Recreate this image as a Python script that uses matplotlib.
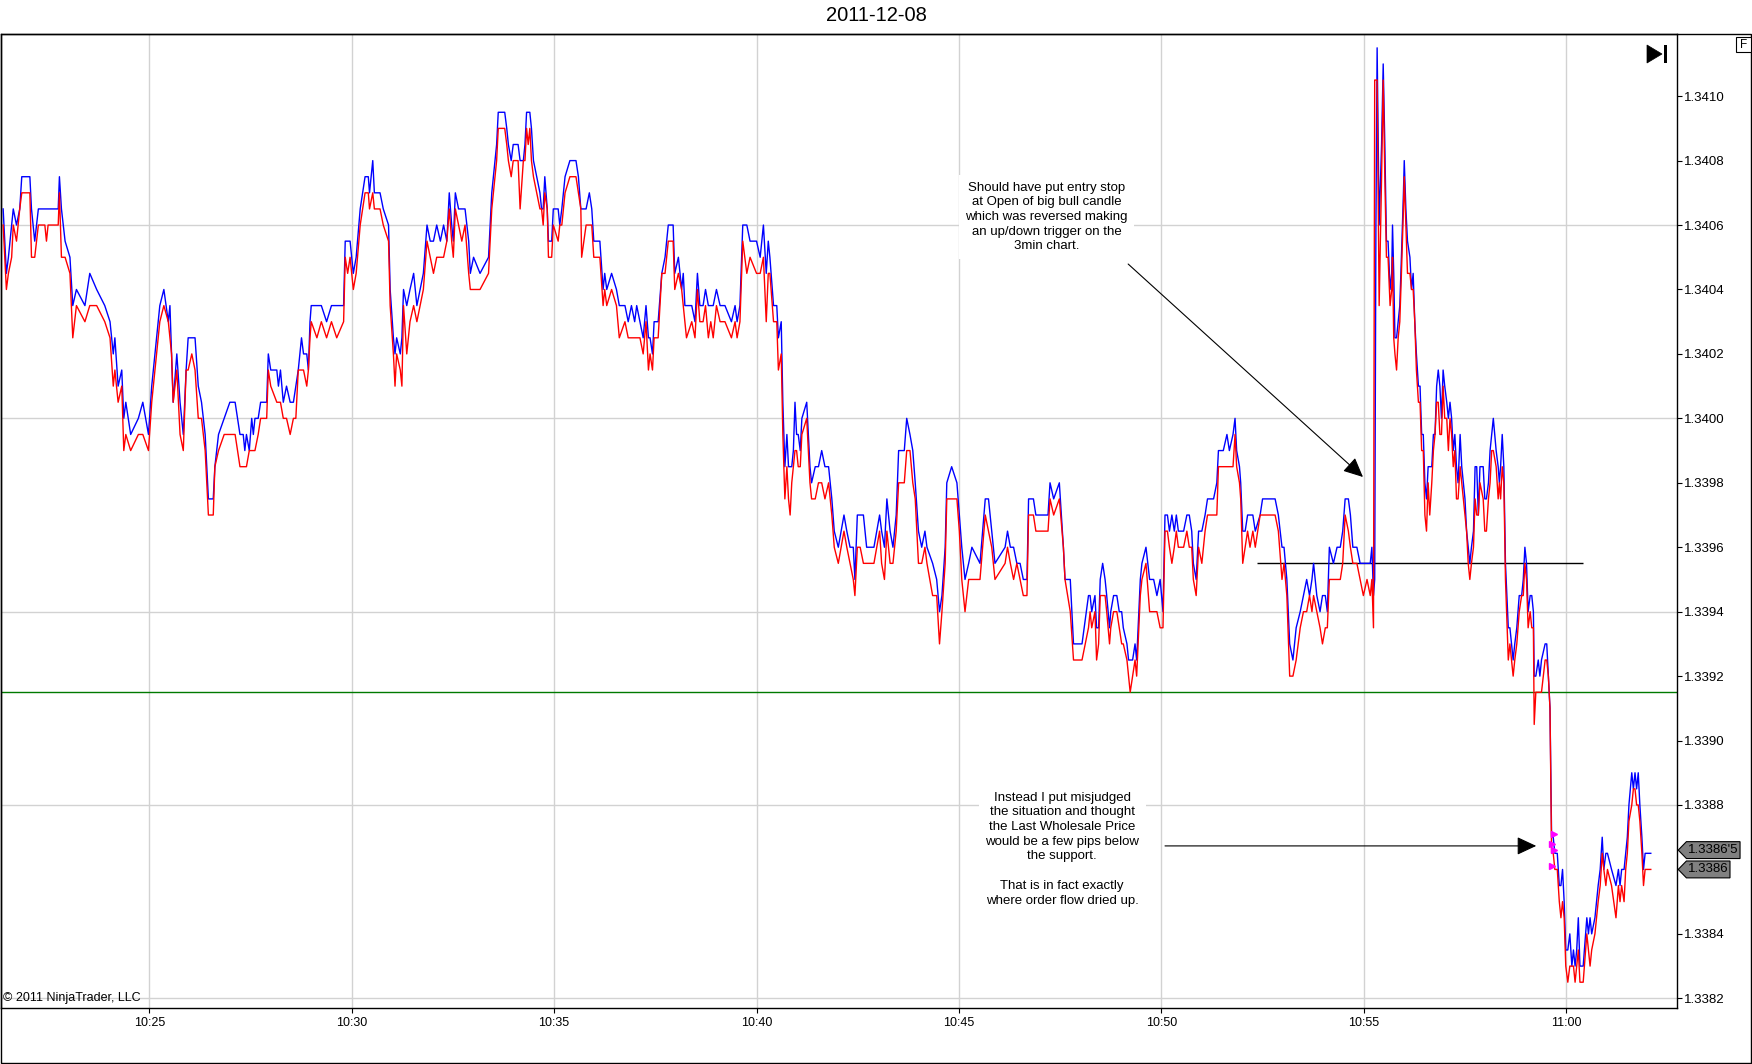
import matplotlib
matplotlib.use("Agg")
import matplotlib.pyplot as plt
from matplotlib.patches import Polygon, Rectangle
from matplotlib.transforms import blended_transform_factory

plt.rcParams['font.family'] = ['Liberation Sans', 'DejaVu Sans']

# ---------------- data (minutes after 10:00, ask, bid) ----------------
minutes = [
    21.39, 21.47, 21.52, 21.60, 21.64, 21.72, 21.80, 21.85,
    22.05, 22.09, 22.17, 22.26, 22.42, 22.46, 22.50, 22.75,
    22.78, 22.83, 22.92, 23.04, 23.11, 23.20, 23.41, 23.53,
    23.70, 23.90, 24.03, 24.11, 24.15, 24.23, 24.32, 24.37,
    24.42, 24.54, 24.73, 24.84, 24.98, 25.06, 25.14, 25.26,
    25.36, 25.47, 25.51, 25.55, 25.59, 25.68, 25.76, 25.84,
    25.91, 25.96, 26.05, 26.13, 26.21, 26.29, 26.38, 26.46,
    26.58, 26.62, 26.71, 26.85, 26.99, 27.12, 27.24, 27.32,
    27.36, 27.40, 27.47, 27.53, 27.57, 27.61, 27.69, 27.75,
    27.90, 27.94, 28.00, 28.15, 28.19, 28.24, 28.31, 28.39,
    28.48, 28.56, 28.62, 28.68, 28.76, 28.81, 28.89, 28.93,
    28.97, 29.00, 29.14, 29.25, 29.38, 29.50, 29.63, 29.80,
    29.84, 29.90, 29.96, 30.04, 30.11, 30.21, 30.33, 30.41,
    30.44, 30.52, 30.56, 30.70, 30.78, 30.91, 30.95, 31.03,
    31.07, 31.11, 31.20, 31.24, 31.28, 31.36, 31.44, 31.53,
    31.61, 31.69, 31.77, 31.86, 31.94, 32.02, 32.10, 32.19,
    32.27, 32.35, 32.41, 32.47, 32.51, 32.56, 32.64, 32.72,
    32.80, 32.89, 32.93, 33.01, 33.17, 33.38, 33.46, 33.54,
    33.58, 33.62, 33.78, 33.83, 33.87, 33.94, 33.99, 34.11,
    34.16, 34.24, 34.28, 34.32, 34.36, 34.40, 34.44, 34.49,
    34.57, 34.65, 34.69, 34.73, 34.77, 34.83, 34.86, 34.94,
    34.98, 35.10, 35.14, 35.19, 35.27, 35.39, 35.54, 35.60,
    35.66, 35.68, 35.79, 35.87, 35.93, 35.98, 36.13, 36.21,
    36.25, 36.30, 36.42, 36.54, 36.61, 36.75, 36.83, 36.91,
    36.99, 37.04, 37.12, 37.20, 37.27, 37.33, 37.37, 37.43,
    37.47, 37.57, 37.66, 37.74, 37.82, 37.94, 37.98, 38.07,
    38.15, 38.19, 38.23, 38.27, 38.40, 38.48, 38.54, 38.60,
    38.68, 38.74, 38.81, 38.87, 38.93, 39.01, 39.10, 39.22,
    39.38, 39.47, 39.52, 39.59, 39.66, 39.76, 39.84, 40.00,
    40.09, 40.17, 40.24, 40.29, 40.33, 40.42, 40.50, 40.54,
    40.61, 40.65, 40.70, 40.75, 40.79, 40.83, 40.87, 40.91,
    40.95, 40.99, 41.03, 41.08, 41.12, 41.24, 41.32, 41.36,
    41.45, 41.53, 41.61, 41.69, 41.78, 41.86, 41.92, 42.02,
    42.16, 42.23, 42.31, 42.39, 42.43, 42.49, 42.56, 42.64,
    42.72, 42.90, 43.04, 43.09, 43.16, 43.22, 43.30, 43.37,
    43.45, 43.51, 43.59, 43.65, 43.71, 43.79, 43.86, 43.92,
    44.00, 44.08, 44.16, 44.21, 44.35, 44.45, 44.52, 44.58,
    44.66, 44.70, 44.82, 44.95, 45.01, 45.07, 45.15, 45.24,
    45.32, 45.52, 45.65, 45.73, 45.81, 45.89, 46.14, 46.20,
    46.27, 46.35, 46.43, 46.51, 46.59, 46.68, 46.72, 46.84,
    46.90, 47.20, 47.25, 47.34, 47.48, 47.58, 47.62, 47.75,
    47.83, 48.04, 48.20, 48.24, 48.28, 48.36, 48.40, 48.45,
    48.49, 48.55, 48.61, 48.65, 48.72, 48.75, 48.82, 48.90,
    48.96, 49.02, 49.06, 49.15, 49.19, 49.23, 49.29, 49.35,
    49.39, 49.48, 49.52, 49.62, 49.71, 49.81, 49.89, 49.97,
    50.04, 50.09, 50.15, 50.20, 50.26, 50.32, 50.37, 50.42,
    50.55, 50.63, 50.69, 50.75, 50.79, 50.86, 50.92, 51.00,
    51.08, 51.14, 51.29, 51.37, 51.41, 51.53, 51.62, 51.68,
    51.77, 51.82, 51.86, 51.93, 51.96, 52.01, 52.07, 52.13,
    52.19, 52.26, 52.32, 52.44, 52.50, 52.81, 52.89, 52.98,
    53.03, 53.10, 53.17, 53.25, 53.33, 53.43, 53.51, 53.59,
    53.66, 53.72, 53.76, 53.84, 53.92, 53.98, 54.05, 54.10,
    54.15, 54.25, 54.34, 54.42, 54.48, 54.54, 54.62, 54.67,
    54.73, 54.83, 54.91, 54.99, 55.08, 55.16, 55.20, 55.24,
    55.27, 55.30, 55.33, 55.38, 55.44, 55.48, 55.52, 55.56,
    55.60, 55.65, 55.69, 55.71, 55.74, 55.77, 55.81, 55.85,
    55.89, 55.93, 55.98, 56.00, 56.04, 56.08, 56.14, 56.18,
    56.22, 56.26, 56.30, 56.35, 56.39, 56.43, 56.47, 56.51,
    56.55, 56.59, 56.63, 56.68, 56.72, 56.76, 56.80, 56.84,
    56.88, 56.92, 56.96, 57.00, 57.05, 57.09, 57.13, 57.17,
    57.21, 57.25, 57.29, 57.33, 57.38, 57.42, 57.50, 57.54,
    57.58, 57.62, 57.66, 57.71, 57.75, 57.79, 57.83, 57.87,
    57.95, 57.99, 58.03, 58.08, 58.12, 58.16, 58.20, 58.27,
    58.32, 58.35, 58.38, 58.42, 58.46, 58.50, 58.57, 58.61,
    58.65, 58.69, 58.73, 58.78, 58.84, 58.90, 58.94, 58.98,
    59.02, 59.06, 59.11, 59.15, 59.19, 59.21, 59.25, 59.31,
    59.35, 59.39, 59.48, 59.52, 59.56, 59.60, 59.64, 59.68,
    59.72, 59.78, 59.83, 59.87, 59.91, 59.95, 59.99, 60.04,
    60.09, 60.14, 60.18, 60.22, 60.26, 60.30, 60.34, 60.42,
    60.51, 60.55, 60.59, 60.63, 60.71, 60.79, 60.84, 60.89,
    60.93, 60.98, 61.02, 61.12, 61.23, 61.29, 61.33, 61.37,
    61.43, 61.47, 61.51, 61.55, 61.62, 61.66, 61.70, 61.74,
    61.78, 61.82, 61.87, 61.91, 61.95, 62.09,
]

ask = [
    1.34065, 1.34045, 1.34050, 1.34060, 1.34065, 1.34060, 1.34065, 1.34075,
    1.34075, 1.34065, 1.34055, 1.34065, 1.34065, 1.34065, 1.34065, 1.34065,
    1.34075, 1.34065, 1.34055, 1.34050, 1.34035, 1.34040, 1.34035, 1.34045,
    1.34040, 1.34035, 1.34030, 1.34020, 1.34025, 1.34010, 1.34015, 1.34000,
    1.34005, 1.33995, 1.34000, 1.34005, 1.33995, 1.34010, 1.34020, 1.34035,
    1.34040, 1.34030, 1.34035, 1.34020, 1.34005, 1.34020, 1.34005, 1.33995,
    1.34015, 1.34025, 1.34025, 1.34025, 1.34010, 1.34005, 1.33995, 1.33975,
    1.33975, 1.33985, 1.33995, 1.34000, 1.34005, 1.34005, 1.33995, 1.33995,
    1.33990, 1.33995, 1.33990, 1.34000, 1.33995, 1.34000, 1.34000, 1.34005,
    1.34005, 1.34020, 1.34015, 1.34015, 1.34010, 1.34015, 1.34005, 1.34010,
    1.34005, 1.34005, 1.34010, 1.34015, 1.34025, 1.34020, 1.34020, 1.34015,
    1.34030, 1.34035, 1.34035, 1.34035, 1.34030, 1.34035, 1.34035, 1.34035,
    1.34055, 1.34055, 1.34055, 1.34045, 1.34050, 1.34065, 1.34075, 1.34075,
    1.34070, 1.34080, 1.34070, 1.34070, 1.34065, 1.34060, 1.34040, 1.34025,
    1.34020, 1.34025, 1.34020, 1.34025, 1.34040, 1.34035, 1.34040, 1.34045,
    1.34035, 1.34040, 1.34045, 1.34060, 1.34055, 1.34055, 1.34060, 1.34055,
    1.34060, 1.34055, 1.34070, 1.34060, 1.34055, 1.34070, 1.34065, 1.34065,
    1.34065, 1.34055, 1.34045, 1.34050, 1.34045, 1.34050, 1.34070, 1.34080,
    1.34085, 1.34095, 1.34095, 1.34090, 1.34085, 1.34080, 1.34085, 1.34085,
    1.34080, 1.34080, 1.34085, 1.34095, 1.34095, 1.34095, 1.34090, 1.34080,
    1.34075, 1.34070, 1.34065, 1.34065, 1.34075, 1.34065, 1.34055, 1.34055,
    1.34065, 1.34065, 1.34060, 1.34065, 1.34075, 1.34080, 1.34080, 1.34075,
    1.34065, 1.34065, 1.34065, 1.34070, 1.34065, 1.34055, 1.34055, 1.34040,
    1.34045, 1.34040, 1.34045, 1.34040, 1.34035, 1.34035, 1.34030, 1.34035,
    1.34030, 1.34035, 1.34030, 1.34025, 1.34035, 1.34025, 1.34025, 1.34020,
    1.34030, 1.34030, 1.34045, 1.34050, 1.34060, 1.34060, 1.34045, 1.34050,
    1.34040, 1.34045, 1.34035, 1.34035, 1.34035, 1.34030, 1.34045, 1.34035,
    1.34035, 1.34040, 1.34035, 1.34035, 1.34035, 1.34040, 1.34035, 1.34035,
    1.34030, 1.34035, 1.34030, 1.34035, 1.34060, 1.34060, 1.34055, 1.34055,
    1.34050, 1.34060, 1.34045, 1.34055, 1.34050, 1.34035, 1.34035, 1.34025,
    1.34030, 1.34005, 1.33985, 1.33995, 1.33985, 1.33985, 1.33985, 1.33990,
    1.34005, 1.33995, 1.33995, 1.33990, 1.34000, 1.34005, 1.33985, 1.33980,
    1.33985, 1.33985, 1.33990, 1.33985, 1.33985, 1.33975, 1.33965, 1.33960,
    1.33970, 1.33965, 1.33960, 1.33960, 1.33950, 1.33970, 1.33970, 1.33970,
    1.33960, 1.33960, 1.33970, 1.33965, 1.33960, 1.33975, 1.33965, 1.33960,
    1.33970, 1.33990, 1.33990, 1.33990, 1.34000, 1.33995, 1.33990, 1.33980,
    1.33965, 1.33960, 1.33965, 1.33960, 1.33955, 1.33950, 1.33940, 1.33945,
    1.33960, 1.33980, 1.33985, 1.33980, 1.33970, 1.33960, 1.33950, 1.33955,
    1.33960, 1.33955, 1.33975, 1.33975, 1.33965, 1.33955, 1.33960, 1.33965,
    1.33960, 1.33960, 1.33955, 1.33955, 1.33950, 1.33950, 1.33975, 1.33975,
    1.33970, 1.33970, 1.33980, 1.33975, 1.33980, 1.33960, 1.33950, 1.33950,
    1.33930, 1.33930, 1.33945, 1.33945, 1.33940, 1.33945, 1.33935, 1.33935,
    1.33950, 1.33955, 1.33950, 1.33945, 1.33935, 1.33940, 1.33945, 1.33945,
    1.33940, 1.33940, 1.33935, 1.33930, 1.33925, 1.33925, 1.33925, 1.33930,
    1.33925, 1.33950, 1.33955, 1.33960, 1.33950, 1.33950, 1.33945, 1.33950,
    1.33940, 1.33970, 1.33970, 1.33965, 1.33970, 1.33965, 1.33970, 1.33965,
    1.33965, 1.33970, 1.33970, 1.33965, 1.33955, 1.33950, 1.33965, 1.33965,
    1.33970, 1.33975, 1.33975, 1.33980, 1.33990, 1.33990, 1.33995, 1.33990,
    1.33995, 1.34000, 1.33990, 1.33985, 1.33980, 1.33965, 1.33965, 1.33970,
    1.33970, 1.33970, 1.33965, 1.33970, 1.33975, 1.33975, 1.33970, 1.33960,
    1.33960, 1.33950, 1.33930, 1.33925, 1.33935, 1.33940, 1.33945, 1.33950,
    1.33945, 1.33950, 1.33955, 1.33945, 1.33940, 1.33945, 1.33945, 1.33940,
    1.33960, 1.33955, 1.33960, 1.33960, 1.33965, 1.33975, 1.33975, 1.33970,
    1.33960, 1.33960, 1.33955, 1.33955, 1.33955, 1.33955, 1.33960, 1.33945,
    1.33950, 1.34060, 1.34115, 1.34060, 1.34085, 1.34110, 1.34085, 1.34055,
    1.34055, 1.34040, 1.34045, 1.34060, 1.34045, 1.34025, 1.34025, 1.34030,
    1.34035, 1.34050, 1.34070, 1.34080, 1.34065, 1.34055, 1.34050, 1.34040,
    1.34045, 1.34030, 1.34020, 1.34010, 1.34010, 1.33995, 1.33995, 1.33980,
    1.33975, 1.33985, 1.33985, 1.33985, 1.33995, 1.33995, 1.34010, 1.34015,
    1.34010, 1.34000, 1.34015, 1.34010, 1.34005, 1.34000, 1.34005, 1.34000,
    1.33990, 1.33995, 1.33985, 1.33980, 1.33995, 1.33985, 1.33975, 1.33965,
    1.33960, 1.33955, 1.33960, 1.33965, 1.33985, 1.33985, 1.33970, 1.33985,
    1.33985, 1.33975, 1.33975, 1.33980, 1.33990, 1.33995, 1.34000, 1.33990,
    1.33985, 1.33980, 1.33985, 1.33995, 1.33985, 1.33955, 1.33935, 1.33935,
    1.33930, 1.33925, 1.33930, 1.33935, 1.33945, 1.33945, 1.33950, 1.33960,
    1.33955, 1.33940, 1.33945, 1.33945, 1.33940, 1.33920, 1.33920, 1.33925,
    1.33920, 1.33925, 1.33930, 1.33930, 1.33920, 1.33910, 1.33870, 1.33870,
    1.33865, 1.33865, 1.33855, 1.33855, 1.33860, 1.33850, 1.33835, 1.33835,
    1.33840, 1.33830, 1.33835, 1.33830, 1.33835, 1.33845, 1.33830, 1.33830,
    1.33845, 1.33840, 1.33845, 1.33840, 1.33845, 1.33855, 1.33860, 1.33870,
    1.33860, 1.33865, 1.33865, 1.33860, 1.33855, 1.33860, 1.33855, 1.33860,
    1.33860, 1.33865, 1.33870, 1.33880, 1.33890, 1.33885, 1.33890, 1.33885,
    1.33890, 1.33880, 1.33870, 1.33860, 1.33865, 1.33865,
]

bid = [
    1.34060, 1.34040, 1.34045, 1.34050, 1.34060, 1.34055, 1.34065, 1.34070,
    1.34070, 1.34050, 1.34050, 1.34060, 1.34060, 1.34055, 1.34060, 1.34060,
    1.34070, 1.34050, 1.34050, 1.34045, 1.34025, 1.34035, 1.34030, 1.34035,
    1.34035, 1.34030, 1.34025, 1.34010, 1.34015, 1.34005, 1.34010, 1.33990,
    1.33995, 1.33990, 1.33995, 1.33995, 1.33990, 1.34005, 1.34015, 1.34030,
    1.34035, 1.34030, 1.34025, 1.34020, 1.34005, 1.34015, 1.33995, 1.33990,
    1.34015, 1.34015, 1.34020, 1.34015, 1.34000, 1.34000, 1.33990, 1.33970,
    1.33970, 1.33985, 1.33990, 1.33995, 1.33995, 1.33995, 1.33985, 1.33985,
    1.33985, 1.33985, 1.33990, 1.33990, 1.33990, 1.33990, 1.33995, 1.34000,
    1.34000, 1.34015, 1.34010, 1.34005, 1.34005, 1.34005, 1.34000, 1.34000,
    1.33995, 1.34000, 1.34000, 1.34015, 1.34015, 1.34015, 1.34010, 1.34015,
    1.34025, 1.34030, 1.34025, 1.34030, 1.34025, 1.34030, 1.34025, 1.34030,
    1.34050, 1.34045, 1.34050, 1.34040, 1.34045, 1.34060, 1.34070, 1.34070,
    1.34065, 1.34070, 1.34065, 1.34065, 1.34060, 1.34055, 1.34035, 1.34020,
    1.34010, 1.34020, 1.34015, 1.34010, 1.34035, 1.34020, 1.34030, 1.34035,
    1.34030, 1.34035, 1.34040, 1.34055, 1.34050, 1.34045, 1.34050, 1.34050,
    1.34050, 1.34055, 1.34065, 1.34055, 1.34050, 1.34065, 1.34060, 1.34055,
    1.34060, 1.34045, 1.34040, 1.34040, 1.34040, 1.34045, 1.34065, 1.34075,
    1.34080, 1.34090, 1.34090, 1.34085, 1.34080, 1.34075, 1.34080, 1.34080,
    1.34065, 1.34080, 1.34080, 1.34090, 1.34085, 1.34090, 1.34080, 1.34075,
    1.34070, 1.34065, 1.34065, 1.34060, 1.34070, 1.34065, 1.34050, 1.34050,
    1.34060, 1.34055, 1.34060, 1.34060, 1.34070, 1.34075, 1.34075, 1.34070,
    1.34065, 1.34050, 1.34060, 1.34060, 1.34060, 1.34050, 1.34050, 1.34035,
    1.34040, 1.34035, 1.34040, 1.34035, 1.34025, 1.34030, 1.34025, 1.34025,
    1.34025, 1.34025, 1.34025, 1.34020, 1.34030, 1.34015, 1.34020, 1.34015,
    1.34025, 1.34025, 1.34045, 1.34045, 1.34055, 1.34055, 1.34040, 1.34045,
    1.34040, 1.34035, 1.34030, 1.34025, 1.34030, 1.34025, 1.34040, 1.34030,
    1.34030, 1.34035, 1.34025, 1.34030, 1.34025, 1.34035, 1.34030, 1.34030,
    1.34025, 1.34030, 1.34025, 1.34030, 1.34055, 1.34045, 1.34050, 1.34045,
    1.34045, 1.34050, 1.34030, 1.34045, 1.34045, 1.34030, 1.34030, 1.34015,
    1.34020, 1.33995, 1.33975, 1.33985, 1.33975, 1.33970, 1.33980, 1.33985,
    1.33990, 1.33990, 1.33985, 1.33985, 1.33995, 1.34000, 1.33980, 1.33975,
    1.33975, 1.33980, 1.33980, 1.33975, 1.33980, 1.33970, 1.33960, 1.33955,
    1.33965, 1.33960, 1.33955, 1.33950, 1.33945, 1.33960, 1.33960, 1.33955,
    1.33955, 1.33955, 1.33965, 1.33955, 1.33950, 1.33965, 1.33955, 1.33955,
    1.33965, 1.33980, 1.33980, 1.33980, 1.33990, 1.33990, 1.33980, 1.33975,
    1.33955, 1.33955, 1.33960, 1.33955, 1.33945, 1.33945, 1.33930, 1.33940,
    1.33955, 1.33975, 1.33975, 1.33975, 1.33965, 1.33950, 1.33940, 1.33950,
    1.33950, 1.33950, 1.33970, 1.33965, 1.33960, 1.33950, 1.33955, 1.33960,
    1.33955, 1.33950, 1.33955, 1.33950, 1.33945, 1.33945, 1.33970, 1.33970,
    1.33965, 1.33965, 1.33975, 1.33970, 1.33975, 1.33960, 1.33950, 1.33940,
    1.33925, 1.33925, 1.33935, 1.33940, 1.33935, 1.33940, 1.33925, 1.33930,
    1.33945, 1.33945, 1.33945, 1.33940, 1.33930, 1.33935, 1.33940, 1.33940,
    1.33935, 1.33930, 1.33930, 1.33925, 1.33920, 1.33915, 1.33920, 1.33925,
    1.33920, 1.33945, 1.33950, 1.33955, 1.33940, 1.33940, 1.33940, 1.33935,
    1.33935, 1.33965, 1.33965, 1.33960, 1.33955, 1.33960, 1.33965, 1.33960,
    1.33960, 1.33965, 1.33960, 1.33960, 1.33950, 1.33945, 1.33960, 1.33955,
    1.33965, 1.33970, 1.33970, 1.33970, 1.33985, 1.33985, 1.33985, 1.33985,
    1.33985, 1.33995, 1.33985, 1.33980, 1.33975, 1.33955, 1.33960, 1.33965,
    1.33960, 1.33965, 1.33960, 1.33970, 1.33970, 1.33970, 1.33965, 1.33950,
    1.33955, 1.33945, 1.33920, 1.33920, 1.33925, 1.33935, 1.33940, 1.33940,
    1.33945, 1.33940, 1.33945, 1.33940, 1.33935, 1.33930, 1.33935, 1.33935,
    1.33950, 1.33950, 1.33950, 1.33950, 1.33955, 1.33970, 1.33965, 1.33960,
    1.33955, 1.33955, 1.33950, 1.33945, 1.33950, 1.33945, 1.33950, 1.33935,
    1.34105, 1.34105, 1.34105, 1.34035, 1.34075, 1.34105, 1.34075, 1.34050,
    1.34050, 1.34035, 1.34040, 1.34050, 1.34025, 1.34020, 1.34015, 1.34025,
    1.34030, 1.34045, 1.34065, 1.34075, 1.34060, 1.34045, 1.34045, 1.34040,
    1.34040, 1.34030, 1.34015, 1.34005, 1.34005, 1.33990, 1.33990, 1.33970,
    1.33965, 1.33980, 1.33970, 1.33980, 1.33990, 1.33995, 1.34005, 1.34005,
    1.33995, 1.33995, 1.34010, 1.34000, 1.34000, 1.33990, 1.34000, 1.33995,
    1.33985, 1.33990, 1.33975, 1.33975, 1.33985, 1.33980, 1.33970, 1.33965,
    1.33955, 1.33950, 1.33955, 1.33960, 1.33975, 1.33970, 1.33970, 1.33980,
    1.33975, 1.33965, 1.33965, 1.33975, 1.33980, 1.33990, 1.33990, 1.33985,
    1.33975, 1.33980, 1.33975, 1.33985, 1.33980, 1.33950, 1.33925, 1.33930,
    1.33925, 1.33920, 1.33925, 1.33930, 1.33940, 1.33945, 1.33945, 1.33955,
    1.33950, 1.33935, 1.33940, 1.33935, 1.33935, 1.33905, 1.33915, 1.33915,
    1.33915, 1.33915, 1.33925, 1.33925, 1.33920, 1.33910, 1.33865, 1.33865,
    1.33860, 1.33860, 1.33850, 1.33845, 1.33850, 1.33845, 1.33830, 1.33825,
    1.33830, 1.33830, 1.33830, 1.33825, 1.33830, 1.33835, 1.33825, 1.33825,
    1.33840, 1.33835, 1.33830, 1.33835, 1.33840, 1.33850, 1.33855, 1.33865,
    1.33860, 1.33855, 1.33860, 1.33855, 1.33845, 1.33855, 1.33850, 1.33855,
    1.33850, 1.33860, 1.33865, 1.33875, 1.33880, 1.33885, 1.33885, 1.33880,
    1.33880, 1.33875, 1.33865, 1.33855, 1.33860, 1.33860,
]

x_tick_minutes = [25, 30, 35, 40, 45, 50, 55, 60]
x_tick_labels = ["10:25", "10:30", "10:35", "10:40", "10:45", "10:50", "10:55", "11:00"]
y_ticks = [1.3382, 1.3384, 1.3386, 1.3388, 1.3390, 1.3392, 1.3394, 1.3396,
           1.3398, 1.3400, 1.3402, 1.3404, 1.3406, 1.3408, 1.3410]
hidden_y_tick = 1.3386          # covered by the last-price flag in the original
grid_prices = [1.3382, 1.3388, 1.3394, 1.3400, 1.3406]

support_price = 1.33915
trigger_price = 1.33955
trigger_start, trigger_end = 52.37, 60.42

fill_t = [59.64, 59.64, 59.70, 59.71]
fill_p = [1.33868, 1.33861, 1.33871, 1.33866]

price_flags = [("1.3386'5", 1.33866, 1.0378), ("1.3386", 1.33860, 1.0318)]

note1 = ("Should have put entry stop\nat Open of big bull candle\n"
         "which was reversed making\nan up/down trigger on the\n3min chart.")
note2 = ("Instead I put misjudged\nthe situation and thought\n"
         "the Last Wholesale Price\nwould be a few pips below\nthe support.\n\n"
         "That is in fact exactly\nwhere order flow dried up.")

assert len(minutes) == len(ask) == len(bid)

# ---------------- figure ----------------
W, H = 1752, 1064
fig = plt.figure(figsize=(W / 100, H / 100), dpi=100)
fig.patch.set_facecolor('white')

ax_left, ax_right, ax_top, ax_bottom = 1.0, 1676.7, 34.3, 1008.3
ax = fig.add_axes([ax_left / W, 1 - ax_bottom / H,
                   (ax_right - ax_left) / W, (ax_bottom - ax_top) / H])
ax.set_xlim(21.337, 62.73)
ax.set_ylim(1.338169, 1.341192)

grid_col = '#d2d2d2'
for p in grid_prices:
    ax.axhline(p, color=grid_col, lw=1.0, zorder=0)
for t in x_tick_minutes:
    ax.axvline(t, color=grid_col, lw=1.0, zorder=0)

ax.axhline(support_price, color='#007a00', lw=1.0, zorder=1)
ax.hlines(trigger_price, trigger_start, trigger_end, color='black', lw=1.0, zorder=1)

ax.plot(minutes, ask, color='#0000ff', lw=1.0, zorder=3)
ax.plot(minutes, bid, color='#ff0000', lw=1.0, zorder=4)
ax.plot(fill_t, fill_p, linestyle='none', marker='>', color='#ff00ff',
        markersize=5, zorder=5)

# annotations
ax.text(47.16, 1.340625, note1, ha='center', va='center', fontsize=9.5,
        linespacing=1.3, zorder=6,
        bbox=dict(facecolor='white', edgecolor='none', boxstyle='square,pad=0.5'))
ax.text(47.55, 1.338663, note2, ha='center', va='center', fontsize=9.5,
        linespacing=1.3, zorder=6,
        bbox=dict(facecolor='white', edgecolor='none', boxstyle='square,pad=0.5'))
arrow_style = dict(arrowstyle='-|>,head_length=0.6,head_width=0.28', color='black',
                   lw=0.8, mutation_scale=20, shrinkA=0, shrinkB=0)
ax.annotate('', xy=(54.98, 1.339818), xytext=(49.18, 1.340479), arrowprops=arrow_style, zorder=7)
ax.annotate('', xy=(59.26, 1.338673), xytext=(50.09, 1.338673), arrowprops=arrow_style, zorder=7)

# axes formatting
ax.set_xticks(x_tick_minutes)
ax.set_xticklabels(x_tick_labels)
ax.yaxis.tick_right()
ax.set_yticks(y_ticks)
ax.set_yticklabels(["" if abs(v - hidden_y_tick) < 1e-9 else f"{v:.4f}" for v in y_ticks])
ax.tick_params(axis='x', direction='out', length=3.6, width=0.8, pad=2.5,
               labelsize=9, colors='black')
ax.tick_params(axis='y', direction='out', length=3.6, width=0.8, pad=1.5,
               labelsize=9.5, colors='black')
for s in ax.spines.values():
    s.set_color('black')
    s.set_linewidth(1.0)

# last price flags on the right axis
blend = blended_transform_factory(ax.transAxes, ax.transData)
half_h = 0.0000262
for label, price, right in price_flags:
    tip = 1.0009
    body = 1.0058
    poly = Polygon([(tip, price), (body, price + half_h), (right, price + half_h),
                    (right, price - half_h), (body, price - half_h)],
                   closed=True, transform=blend, facecolor='#808080',
                   edgecolor='black', lw=0.8, clip_on=False, zorder=20)
    ax.add_patch(poly)
    ax.text(body + 0.0012, price, label, transform=blend, ha='left', va='center',
            fontsize=9.5, color='black', zorder=21, clip_on=False)

# copyright
fig.text(3 / W, 1 - 998 / H, "\u00a9 2011 NinjaTrader, LLC", ha='left', va='center',
         fontsize=9, color='black')

# title
fig.text(0.5, 1 - 15.6 / H, "2011-12-08", ha='center', va='center', fontsize=14.5)


def fp(x, y):
    return (x / W, 1 - y / H)


# outer frame
fig.patches.append(Rectangle(fp(0.5, 1062.7), 1750.2 / W, (1062.7 - 34.3) / H,
                             transform=fig.transFigure, fill=False,
                             edgecolor='black', lw=1.0, zorder=30))
# "go to end" icon
fig.patches.append(Polygon([fp(1647, 45), fp(1647, 63), fp(1662, 54)], closed=True,
                           transform=fig.transFigure, facecolor='black',
                           edgecolor='black', lw=0.5, zorder=31))
fig.patches.append(Rectangle(fp(1664, 63), 3 / W, 18 / H, transform=fig.transFigure,
                             facecolor='black', edgecolor='none', zorder=31))
# "F" box
fig.patches.append(Rectangle(fp(1736, 52), 15 / W, 15 / H, transform=fig.transFigure,
                             facecolor='white', edgecolor='black', lw=0.8, zorder=31))
fig.text(1743.5 / W, 1 - 44.8 / H, "F", ha='center', va='center', fontsize=8.5, zorder=32)

fig.savefig("out.png", dpi=100, facecolor='white')
